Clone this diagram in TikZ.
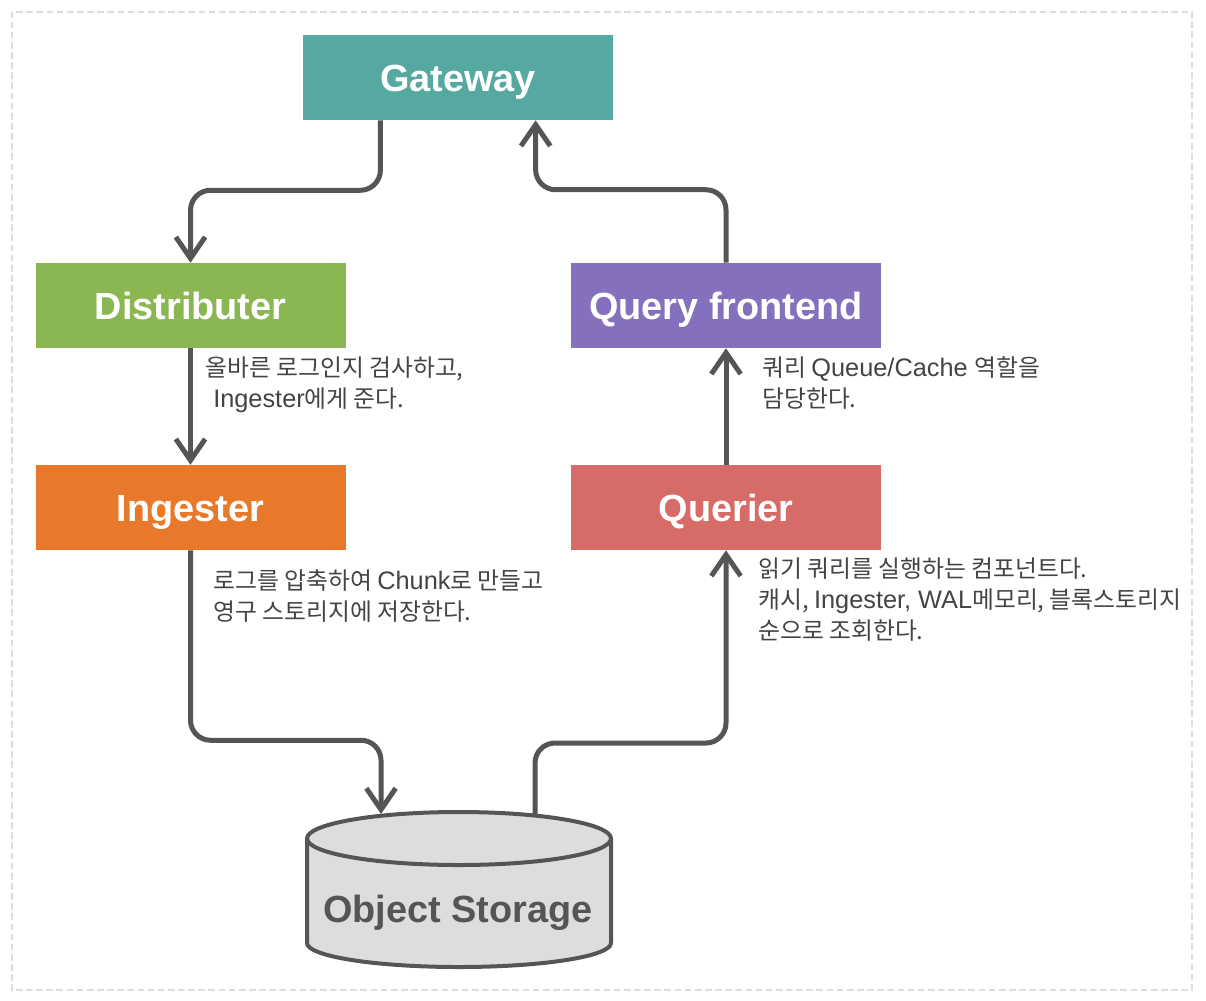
\documentclass[tikz,border=0pt]{standalone}
\usepackage{fontspec}
\setmainfont{Liberation Sans}
\newfontfamily\kr[Scale=0.94]{Noto Sans CJK KR}
\usetikzlibrary{arrows.meta,calc}
\definecolor{cgw}{HTML}{56A9A0}
\definecolor{cdi}{HTML}{8BB752}
\definecolor{cqf}{HTML}{8570BE}
\definecolor{cin}{HTML}{E8782A}
\definecolor{cqr}{HTML}{D66B67}
\definecolor{cline}{HTML}{555555}
\definecolor{ctext}{HTML}{444444}
\definecolor{cdash}{HTML}{DDDDDD}
\definecolor{ccyl}{HTML}{DDDDDD}
\begin{document}
\begin{tikzpicture}[x=0.75pt,y=-0.75pt,
  ttl/.style={font=\bfseries\fontsize{28.4}{34}\selectfont, text height=20.3pt, text depth=0pt},
  box/.style={ttl, draw=none, minimum width=232.5pt, minimum height=63.75pt, inner sep=0pt,
    text=white},
  conn/.style={draw=cline, line width=3.75pt, rounded corners=15pt,
    -{Straight Barb[length=16pt,width=22pt]}},
  lab/.style={anchor=base west, inner sep=0pt, text=ctext, font=\fontsize{19}{23}\selectfont},
  cyl/.style={draw=cline, line width=3pt, fill=ccyl}]
\useasboundingbox (0,0) rectangle (1206,1000);
\draw[draw=cdash, line width=1.5pt, dash pattern=on 5pt off 2.6pt] (11.5,11.5) rectangle (1192,990);

\node[box, fill=cgw] (gw) at (458,77.5) {Gateway};
\node[box, fill=cdi] (di) at (190.5,305.5) {Distributer};
\node[box, fill=cqf] (qf) at (726,305.5) {Query frontend};
\node[box, fill=cin] (in) at (190.5,507.5) {Ingester};
\node[box, fill=cqr] (qr) at (726,507.5) {Querier};

% cylinder
\draw[cyl] (307,838.5) -- (307,943) arc[start angle=180,end angle=360,x radius=114pt,y radius=18pt]
  -- (611,838.5) arc[start angle=0,end angle=180,x radius=114pt,y radius=19.875pt] -- cycle;
\draw[cyl, fill=none] (307,838.5) arc[start angle=180,end angle=360,x radius=114pt,y radius=19.875pt];
\node[ttl, text=cline, inner sep=0pt] (os) at (458,909) {Object Storage};

\coordinate (gwL) at ($(gw.south west)!0.25!(gw.south east)$);
\coordinate (gwR) at ($(gw.south west)!0.75!(gw.south east)$);
\coordinate (osL) at (381,814);
\coordinate (osR) at (535,814);

\draw[conn] (gwL) -- ++(0,70) -| (di.north);
\draw[conn] (di.south) -- (in.north);
\draw[conn] (in.south) -- ++(0,190) -| (osL);
\draw[conn] (osR) -- ++(0,-71) -| (qr.south);
\draw[conn] (qr.north) -- (qf.south);
\draw[conn] (qf.north) -- ++(0,-73) -| (gwR);

\node[lab] (t1a) at (205,376) {{\kr 올바른 로그인지 검사하고,}};
\node[lab] (t1b) at (213,407) {Ingester{\kr 에게 준다.}};
\node[lab] (t2a) at (213,589) {{\kr 로그를 압축하여 }Chunk{\kr 로 만들고}};
\node[lab] (t2b) at (213,620) {{\kr 영구 스토리지에 저장한다.}};
\node[lab] (t3a) at (762,376) {{\kr 쿼리 }Queue/Cache {\kr 역할을}};
\node[lab] (t3b) at (762,407) {{\kr 담당한다.}};
\node[lab] (t4a) at (758,577) {{\kr 읽기 쿼리를 실행하는 컴포넌트다.}};
\node[lab] (t4b) at (758,608) {{\kr 캐시, }Ingester, WAL{\kr 메모리, 블록스토리지}};
\node[lab] (t4c) at (758,639) {{\kr 순으로 조회한다.}};
\end{tikzpicture}
\end{document}
